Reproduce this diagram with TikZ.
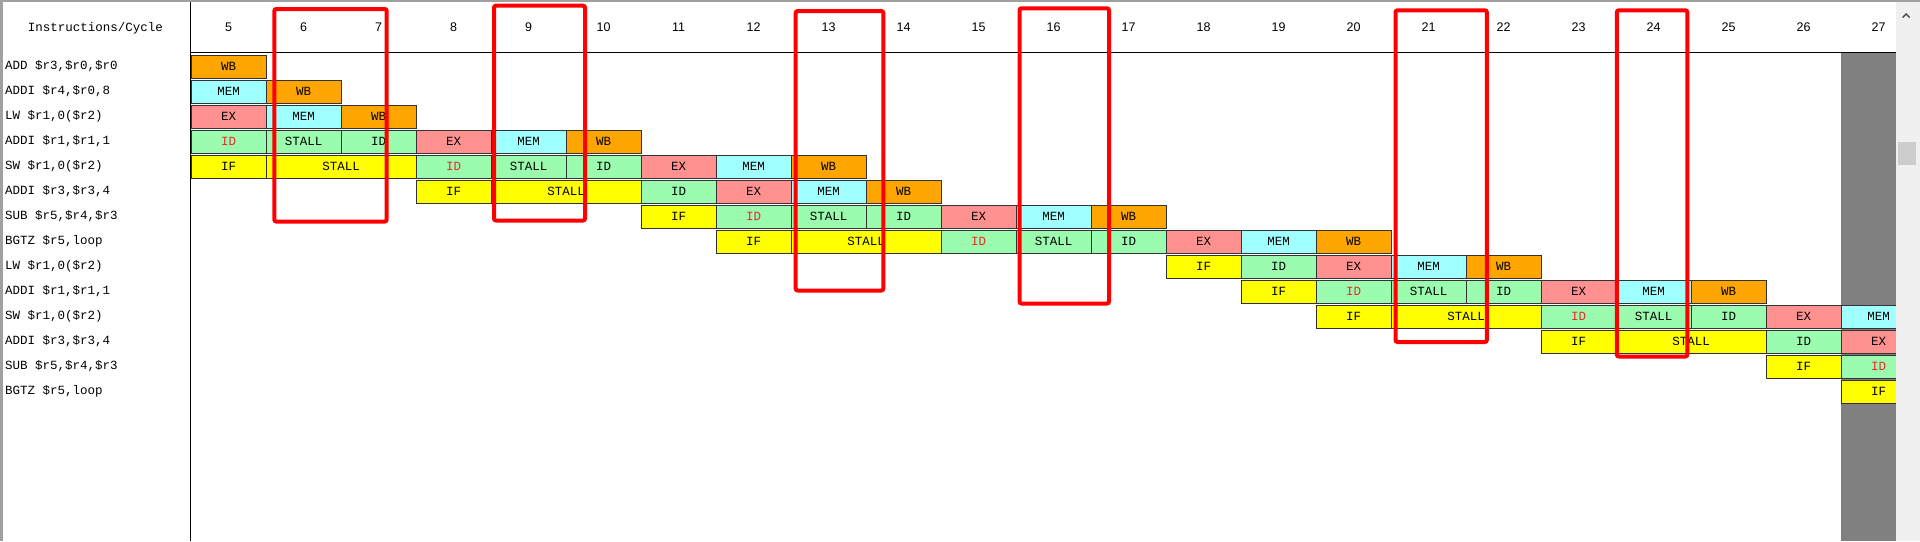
\documentclass[tikz,border=0pt]{standalone}
\usepackage{fontspec}
\usepackage{xcolor}
\usepackage{tikz}
\newfontfamily\cellfont{Liberation Mono}
\newfontfamily\numfont{Liberation Sans}
\definecolor{wbcol}{RGB}{255,165,0}
\definecolor{memcol}{RGB}{160,255,255}
\definecolor{excol}{RGB}{255,145,145}
\definecolor{idcol}{RGB}{155,252,175}
\definecolor{ifcol}{RGB}{255,255,0}
\definecolor{idtext}{RGB}{235,40,40}
\definecolor{framegrey}{RGB}{160,160,160}
\definecolor{deadgrey}{RGB}{128,128,128}
\definecolor{scrollbg}{RGB}{240,240,240}
\definecolor{thumbgrey}{RGB}{205,205,205}
\tikzset{
  stagebox/.style = {draw=black!80, line width=1pt, inner sep=0pt,
                     minimum height=22.5pt, minimum width=#1*75pt,
                     font=\cellfont\fontsize{12.5}{14}\selectfont},
  wbst/.style     = {fill=wbcol},
  memst/.style    = {fill=memcol},
  exst/.style     = {fill=excol},
  idst/.style     = {fill=idcol},
  idrst/.style    = {fill=idcol, text=idtext},
  ifst/.style     = {fill=ifcol},
  instlab/.style  = {anchor=base west, inner sep=0pt,
                     font=\cellfont\fontsize{12.5}{14}\selectfont},
  headlab/.style  = {anchor=base, inner sep=0pt,
                     font=\cellfont\fontsize{12.5}{14}\selectfont},
  cyclab/.style   = {anchor=base, inner sep=0pt,
                     font=\numfont\fontsize{12.5}{14}\selectfont},
  hilite/.style   = {draw=red, line width=4pt, rounded corners=2pt},
}

\begin{document}
\begin{tikzpicture}[x=1pt, y=-1pt]
\useasboundingbox (0,0) rectangle (1920,541);
\fill[white] (0,0) rectangle (1920,541);
% window frame and the dead column
\fill[framegrey] (0,0) rectangle (1920,2);
\fill[framegrey] (0,0) rectangle (2.5,541);
\fill[deadgrey] (1841,53) rectangle (1896,541);

\begin{scope}
\clip (191,53) rectangle (1896,541);
\foreach \r/\c/\s/\k/\t in {
  1/5/1/wbst/WB,
  2/5/1/memst/MEM, 2/6/1/wbst/WB,
  3/5/1/exst/EX, 3/6/1/memst/MEM, 3/7/1/wbst/WB,
  4/5/1/idrst/ID, 4/6/1/idst/STALL, 4/7/1/idst/ID, 4/8/1/exst/EX,
  4/9/1/memst/MEM, 4/10/1/wbst/WB,
  5/5/1/ifst/IF, 5/6/2/ifst/STALL, 5/8/1/idrst/ID, 5/9/1/idst/STALL,
  5/10/1/idst/ID, 5/11/1/exst/EX, 5/12/1/memst/MEM, 5/13/1/wbst/WB,
  6/8/1/ifst/IF, 6/9/2/ifst/STALL, 6/11/1/idst/ID, 6/12/1/exst/EX,
  6/13/1/memst/MEM, 6/14/1/wbst/WB,
  7/11/1/ifst/IF, 7/12/1/idrst/ID, 7/13/1/idst/STALL, 7/14/1/idst/ID,
  7/15/1/exst/EX, 7/16/1/memst/MEM, 7/17/1/wbst/WB,
  8/12/1/ifst/IF, 8/13/2/ifst/STALL, 8/15/1/idrst/ID, 8/16/1/idst/STALL,
  8/17/1/idst/ID, 8/18/1/exst/EX, 8/19/1/memst/MEM, 8/20/1/wbst/WB,
  9/18/1/ifst/IF, 9/19/1/idst/ID, 9/20/1/exst/EX, 9/21/1/memst/MEM,
  9/22/1/wbst/WB,
  10/19/1/ifst/IF, 10/20/1/idrst/ID, 10/21/1/idst/STALL, 10/22/1/idst/ID,
  10/23/1/exst/EX, 10/24/1/memst/MEM, 10/25/1/wbst/WB,
  11/20/1/ifst/IF, 11/21/2/ifst/STALL, 11/23/1/idrst/ID, 11/24/1/idst/STALL,
  11/25/1/idst/ID, 11/26/1/exst/EX, 11/27/1/memst/MEM,
  12/23/1/ifst/IF, 12/24/2/ifst/STALL, 12/26/1/idst/ID, 12/27/1/exst/EX,
  13/26/1/ifst/IF, 13/27/1/idrst/ID,
  14/27/1/ifst/IF}
  \node[stagebox=\s, \k] (s\r-\c) at ({191+(\c-5)*75+37.5*\s}, {66.75+(\r-1)*25}) {\t};
\end{scope}

% header and divider
\draw[line width=1pt] (191,52.7) -- (1896,52.7);
\draw[line width=1pt] (190.7,2) -- (190.7,541);
\node[headlab] (head) at (95.5,31.5) {Instructions/Cycle};
\foreach \c in {5,...,27}
  \node[cyclab] (h\c) at ({191+(\c-5)*75+37.5}, 31.5) {\c};

% instructions
\node[instlab] (i1)  at (5,69)  {ADD \$r3,\$r0,\$r0};
\node[instlab] (i2)  at (5,94)  {ADDI \$r4,\$r0,8};
\node[instlab] (i3)  at (5,119) {LW \$r1,0(\$r2)};
\node[instlab] (i4)  at (5,144) {ADDI \$r1,\$r1,1};
\node[instlab] (i5)  at (5,169) {SW \$r1,0(\$r2)};
\node[instlab] (i6)  at (5,194) {ADDI \$r3,\$r3,4};
\node[instlab] (i7)  at (5,219) {SUB \$r5,\$r4,\$r3};
\node[instlab] (i8)  at (5,244) {BGTZ \$r5,loop};
\node[instlab] (i9)  at (5,269) {LW \$r1,0(\$r2)};
\node[instlab] (i10) at (5,294) {ADDI \$r1,\$r1,1};
\node[instlab] (i11) at (5,319) {SW \$r1,0(\$r2)};
\node[instlab] (i12) at (5,344) {ADDI \$r3,\$r3,4};
\node[instlab] (i13) at (5,369) {SUB \$r5,\$r4,\$r3};
\node[instlab] (i14) at (5,394) {BGTZ \$r5,loop};

% red marks
\draw[hilite] (274.3,9)    rectangle (386.7,221.5);
\draw[hilite] (494,5.7)    rectangle (585,220.5);
\draw[hilite] (795.7,11)   rectangle (883.3,290.5);
\draw[hilite] (1019.5,8.3) rectangle (1109,303.5);
\draw[hilite] (1395.5,10.3) rectangle (1486.8,342);
\draw[hilite] (1616.8,10.3) rectangle (1687.3,356.5);

% scroll bar
\fill[scrollbg] (1896,2) rectangle (1920,541);
\fill[thumbgrey] (1898,142) rectangle (1916,165);
\draw[black!70, line width=1.4pt] (1902.5,17.5) -- (1906,14) -- (1909.5,17.5);
\end{tikzpicture}
\end{document}
